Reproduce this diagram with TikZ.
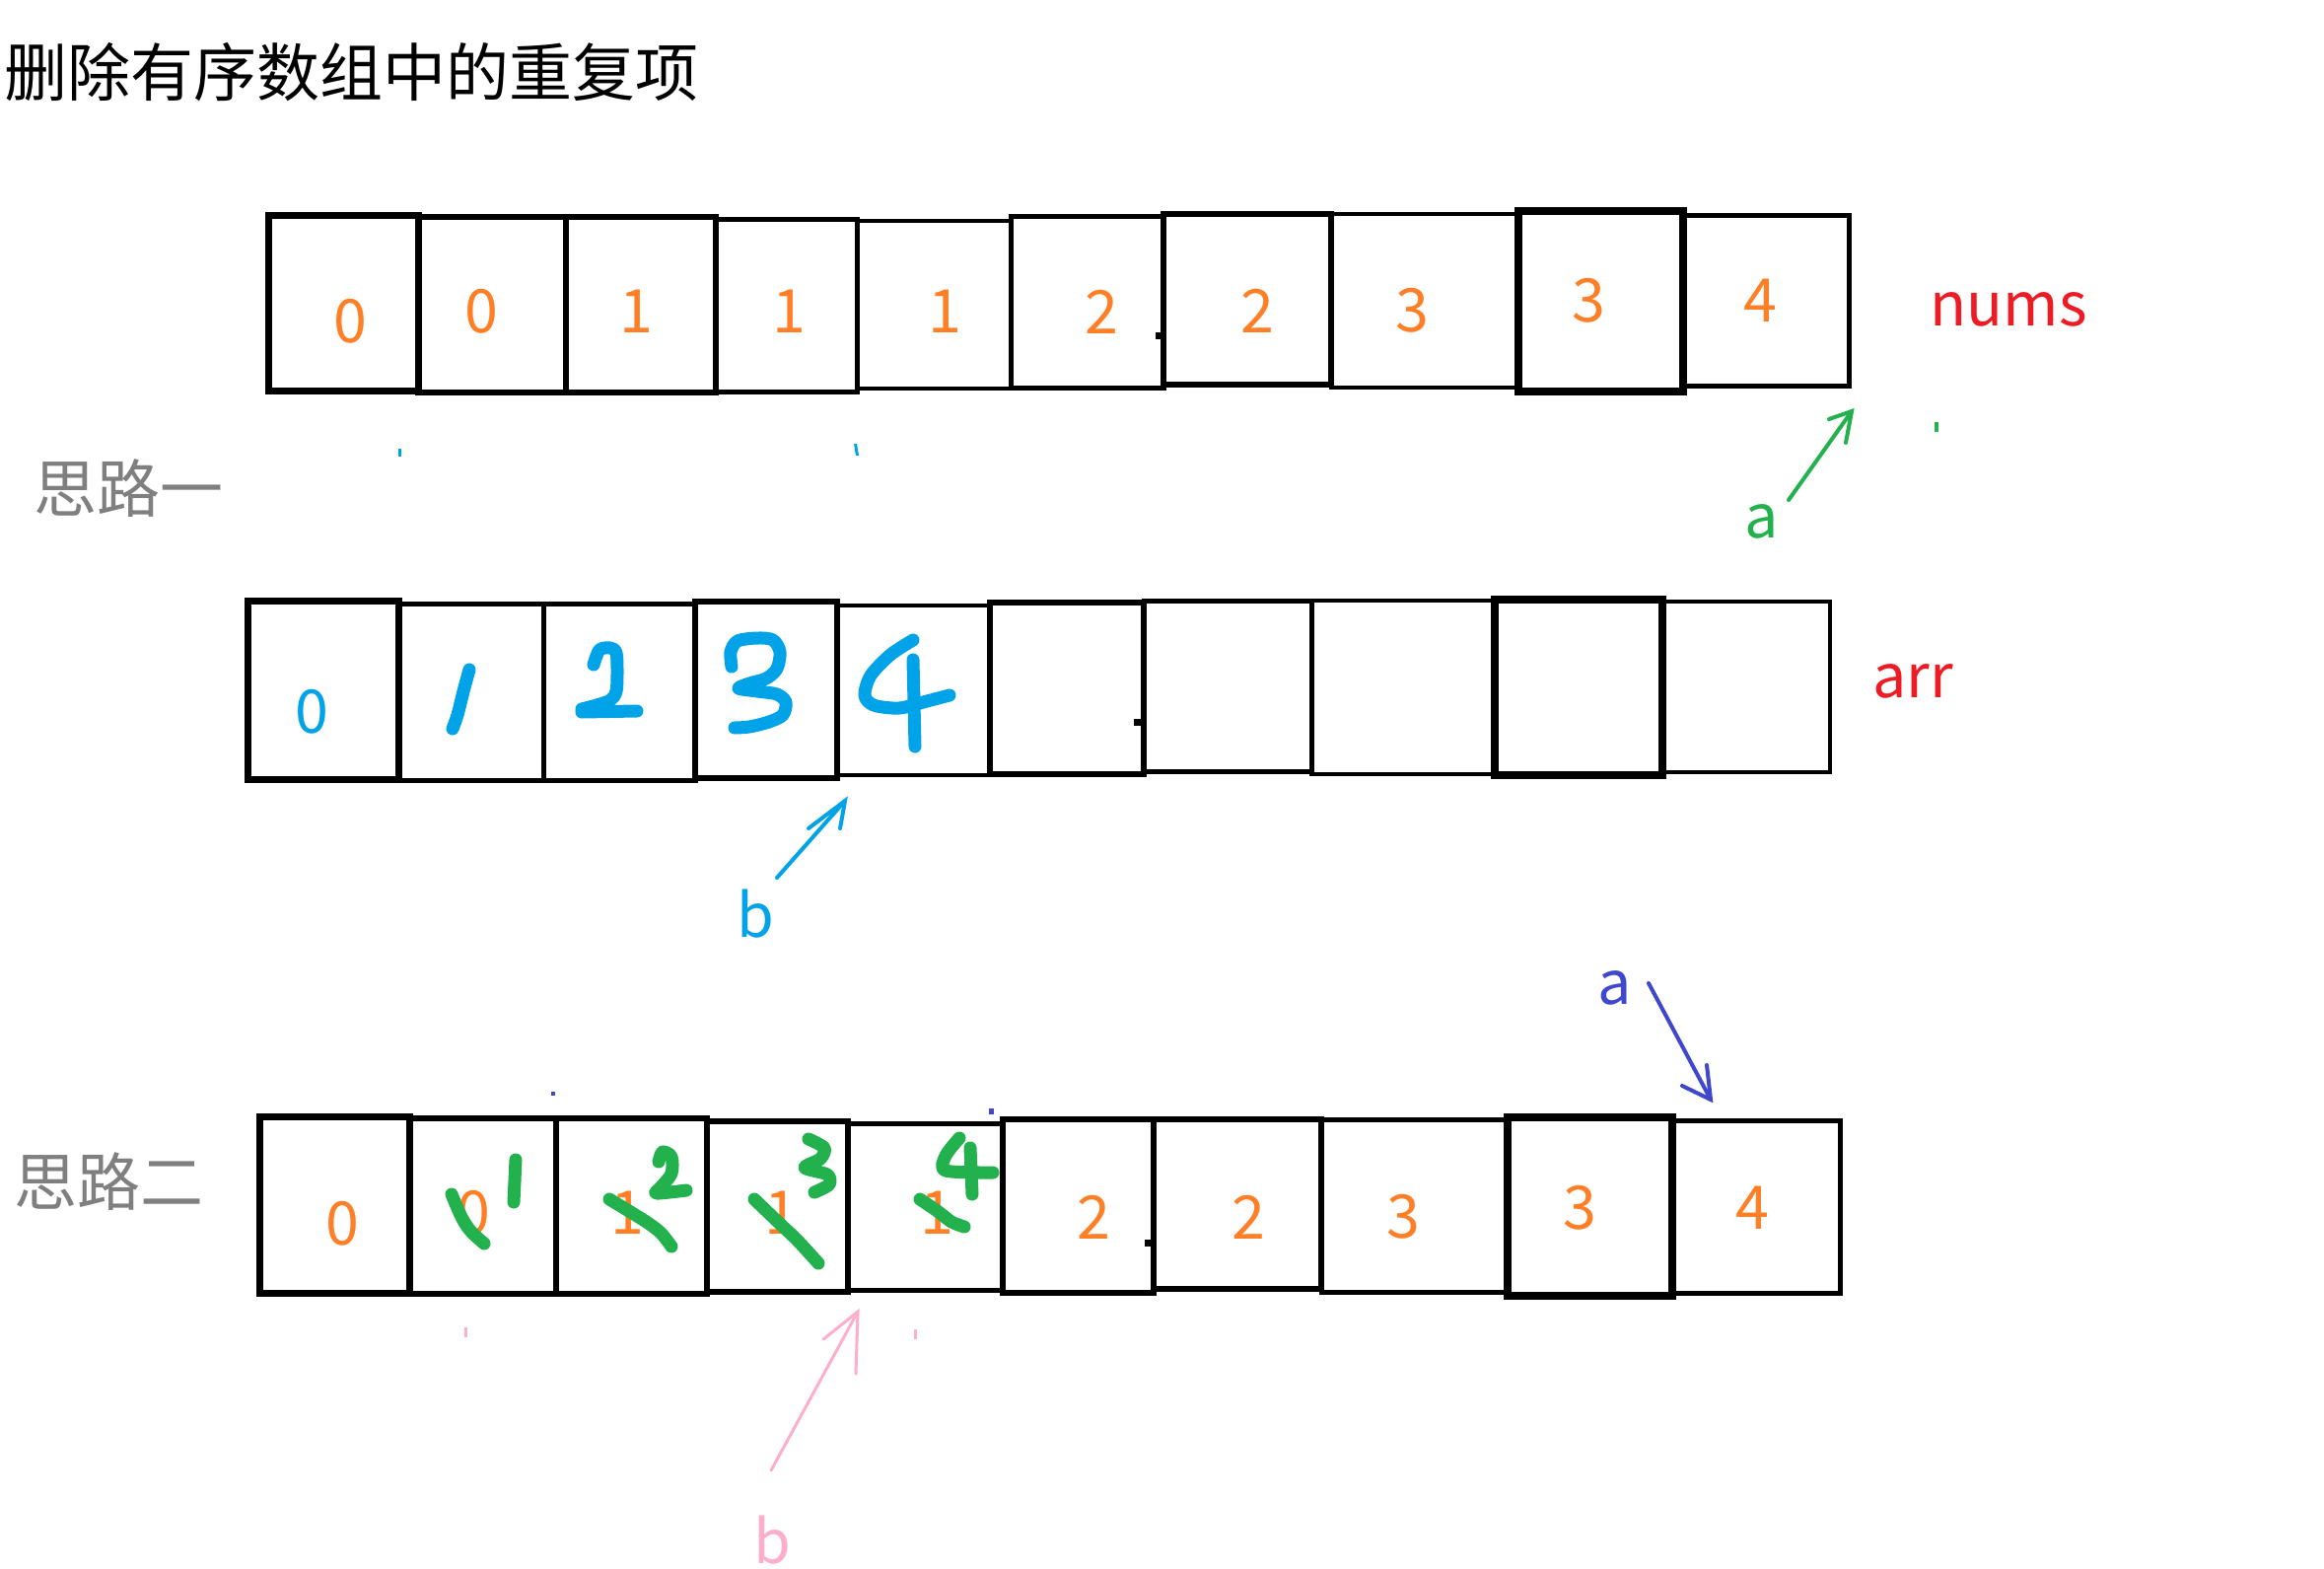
\documentclass[tikz,border=0pt]{standalone}
\usepackage{fontspec}
\setmainfont{Noto Sans CJK SC}
\definecolor{pOrange}{RGB}{255,127,39}
\definecolor{pRed}{RGB}{237,28,36}
\definecolor{pGreen}{RGB}{34,177,76}
\definecolor{pBlue}{RGB}{0,162,232}
\definecolor{pIndigo}{RGB}{63,72,204}
\definecolor{pPink}{RGB}{255,174,201}
\definecolor{pGray}{RGB}{127,127,127}
\newcommand{\arrcell}[6]{%
  \pgfmathsetmacro\cx{(#2+#3)/2}\pgfmathsetmacro\cy{(#4+#5)/2}%
  \pgfmathsetmacro\cw{#3-#2}\pgfmathsetmacro\ch{#5-#4}%
  \node[cellbox, line width=#6pt, minimum width=\cw pt, minimum height=\ch pt] (#1) at (\cx,\cy) {};}
\tikzset{
  cellbox/.style={draw=black, rectangle, inner sep=0pt, outer sep=0pt},
  digit/.style={inner sep=0pt, font=\fontsize{61}{61}\selectfont},
  label/.style={inner sep=0pt, anchor=base, font=\fontsize{61}{61}\selectfont},
  cjk/.style={inner sep=0pt, font=\fontsize{64}{64}\selectfont},
  pen/.style={line width=13pt, line cap=round, line join=round},
  ptr/.style={line width=4pt, line cap=round},
}
\begin{document}
\begin{tikzpicture}[x=1pt,y=-1pt]
\fill[white] (0,0) rectangle (2357,1590);
\useasboundingbox (0,0) rectangle (2357,1590);

% title and section labels
\node[cjk, anchor=west] (title) at (4,73) {删除有序数组中的重复项};
\node[cjk, text=pGray] (idea1) at (130,495) {思路一};
\node[cjk, text=pGray] (idea2) at (110,1198) {思路二};

% ---------- row 1 : nums ----------
\arrcell{n1}{272}{424}{218}{396}{7}
\arrcell{n2}{424}{574}{220}{398}{6}
\arrcell{n3}{574}{726}{220}{398}{6}
\arrcell{n4}{726}{869}{222}{397}{5}
\arrcell{n5}{869}{1025}{224}{394}{4.5}
\arrcell{n6}{1025}{1180}{219}{393}{5}
\arrcell{n7}{1180}{1350}{217}{390}{6}
\arrcell{n8}{1350}{1540}{217}{393}{4.5}
\arrcell{n9}{1540}{1707}{214}{397}{8}
\arrcell{n10}{1707}{1875}{218}{391}{5}
\node[digit, text=pOrange] (n1v) at (355,326) {0};
\node[digit, text=pOrange] (n2v) at (488,316) {0};
\node[digit, text=pOrange] (n3v) at (645,316) {1};
\node[digit, text=pOrange] (n4v) at (800,316) {1};
\node[digit, text=pOrange] (n5v) at (958,316) {1};
\node[digit, text=pOrange] (n6v) at (1117,316) {2};
\node[digit, text=pOrange] (n7v) at (1275,315) {2};
\node[digit, text=pOrange] (n8v) at (1432,315) {3};
\node[digit, text=pOrange] (n9v) at (1611,305) {3};
\node[digit, text=pOrange] (n10v) at (1785,305) {4};
\node[label, text=pRed] (numsl) at (2037,330) {nums};
\fill (1172,337) rectangle (1180,344);

% pointer a (green)
\node[label, text=pGreen] (agl) at (1787,545) {a};
\coordinate (agTail) at (1814,507);
\coordinate (agHead) at (1878,417);
\coordinate (agB1) at (1855,425);
\coordinate (agB2) at (1872,449);
\draw[ptr, pGreen] (agTail) -- (agHead);
\draw[ptr, pGreen] (agB1) -- (agHead) -- (agB2);
\fill[pGreen] (1962,428) rectangle (1966,438);
\fill[pBlue] (404,455) rectangle (407,463);
\fill[pBlue] (866,450) -- (869,450) -- (871,462) -- (868,462) -- cycle;

% ---------- row 2 : arr ----------
\arrcell{a1}{251}{404}{609}{790}{7}
\arrcell{a2}{404}{551}{612}{791}{5}
\arrcell{a3}{551}{705}{612}{791}{5}
\arrcell{a4}{705}{849}{610}{789}{6}
\arrcell{a5}{849}{1004}{614}{786}{4.5}
\arrcell{a6}{1004}{1160}{611}{785}{6}
\arrcell{a7}{1160}{1330}{609}{782}{5}
\arrcell{a8}{1330}{1516}{609}{785}{4.5}
\arrcell{a9}{1516}{1686}{608}{786}{8}
\arrcell{a10}{1686}{1856}{610}{783}{4.5}
\node[digit, text=pBlue] (a1v) at (316,722) {0};
\node[label, text=pRed] (arrl) at (1940,707) {arr};
\fill (1150,729) rectangle (1158,736);
% handwritten digits (blue)
\draw[pen, pBlue] plot[smooth] coordinates {(476,679) (470,701) (464,725) (459,739)};
\draw[pen, pBlue] plot[smooth] coordinates {(602,674) (608,659) (619,657) (625,662) (626,681) (625,701) (619,710) (605,715) (590,719)};
\draw[pen, pBlue] (590,722) -- (646,721);
\draw[pen, pBlue] plot[smooth] coordinates {(742,676) (741,661) (748,650) (768,647) (784,649) (791,661) (788,678) (777,688) (760,693) (749,698) (768,701) (788,704) (797,712) (794,725) (780,732) (760,737) (745,738)};
\draw[pen, pBlue] plot[smooth] coordinates {(926,649) (903,664) (883,685) (877,705) (886,715) (912,718) (940,711) (963,705)};
\draw[pen, pBlue] (926,669) -- (928,757);

% pointer b (blue)
\node[label, text=pBlue] (bbl) at (766,950) {b};
\coordinate (bbTail) at (788,890);
\coordinate (bbHead) at (857,812);
\coordinate (bbB1) at (820,840);
\coordinate (bbB2) at (852,840);
\draw[ptr, pBlue] (bbTail) -- (bbHead);
\draw[ptr, pBlue] (bbB1) -- (bbHead) -- (bbB2);

% ---------- row 3 ----------
\arrcell{b1}{263}{415}{1132}{1311}{7}
\arrcell{b2}{415}{564}{1134}{1312}{6}
\arrcell{b3}{564}{717}{1134}{1312}{6}
\arrcell{b4}{717}{860}{1137}{1310}{5.5}
\arrcell{b5}{860}{1017}{1139}{1308}{5}
\arrcell{b6}{1017}{1170}{1135}{1311}{6}
\arrcell{b7}{1170}{1340}{1135}{1307}{6}
\arrcell{b8}{1340}{1529}{1135}{1310}{5}
\arrcell{b9}{1529}{1696}{1133}{1314}{8}
\arrcell{b10}{1696}{1866}{1136}{1311}{5}
\node[digit, text=pOrange] (b1v) at (347,1241) {0};
\node[digit, text=pOrange] (b2v) at (480,1230) {0};
\node[digit, text=pOrange] (b3v) at (636,1230) {1};
\node[digit, text=pOrange] (b4v) at (792,1230) {1};
\node[digit, text=pOrange] (b5v) at (950,1230) {1};
\node[digit, text=pOrange] (b6v) at (1109,1234) {2};
\node[digit, text=pOrange] (b7v) at (1266,1234) {2};
\node[digit, text=pOrange] (b8v) at (1423,1234) {3};
\node[digit, text=pOrange] (b9v) at (1602,1225) {3};
\node[digit, text=pOrange] (b10v) at (1777,1225) {4};
\fill (1161,1257) rectangle (1168,1264);
% green strikes and rewritten values
\draw[pen, pGreen] plot[smooth] coordinates {(458,1211) (468,1234) (477,1248) (491,1261)};
\draw[pen, pGreen] (523,1176) -- (521,1219);
\draw[pen, pGreen] plot[smooth] coordinates {(618,1216) (654,1238) (670,1250) (681,1264)};
\draw[pen, pGreen] plot[smooth] coordinates {(668,1178) (672,1168) (681,1173) (681,1190) (670,1204) (666,1210) (696,1207)};
\draw[pen, pGreen] plot[smooth] coordinates {(765,1216) (790,1240) (808,1257) (830,1281)};
\draw[pen, pGreen] plot[smooth] coordinates {(820,1155) (836,1164) (832,1175) (816,1184) (839,1191) (841,1201) (826,1209)};
\draw[pen, pGreen] plot[smooth] coordinates {(933,1216) (952,1229) (965,1239) (978,1244)};
\draw[pen, pGreen] plot[smooth] coordinates {(973,1154) (959,1172) (959,1187) (1007,1189)};
\draw[pen, pGreen] (984,1164) -- (986,1211);

% pointer a (indigo)
\node[label, text=pIndigo] (ail) at (1638,1018) {a};
\coordinate (aiTail) at (1672,997);
\coordinate (aiHead) at (1735,1115);
\coordinate (aiB1) at (1706,1101);
\coordinate (aiB2) at (1731,1080);
\draw[ptr, pIndigo] (aiTail) -- (aiHead);
\draw[ptr, pIndigo] (aiB1) -- (aiHead) -- (aiB2);
\fill[pIndigo] (559,1107) rectangle (563,1111);
\fill[pIndigo] (1003,1124) rectangle (1008,1130);

% pointer b (pink)
\node[label, text=pPink] (bpl) at (783,1585) {b};
\coordinate (bpTail) at (782,1491);
\coordinate (bpHead) at (870,1330);
\coordinate (bpB1) at (835,1358);
\coordinate (bpB2) at (868,1393);
\draw[ptr, line width=3pt, pPink] (bpTail) -- (bpHead);
\draw[ptr, line width=3pt, pPink] (bpB1) -- (bpHead) -- (bpB2);
\fill[pPink] (471,1346) rectangle (474,1356);
\fill[pPink] (927,1348) rectangle (930,1358);
\end{tikzpicture}
\end{document}
